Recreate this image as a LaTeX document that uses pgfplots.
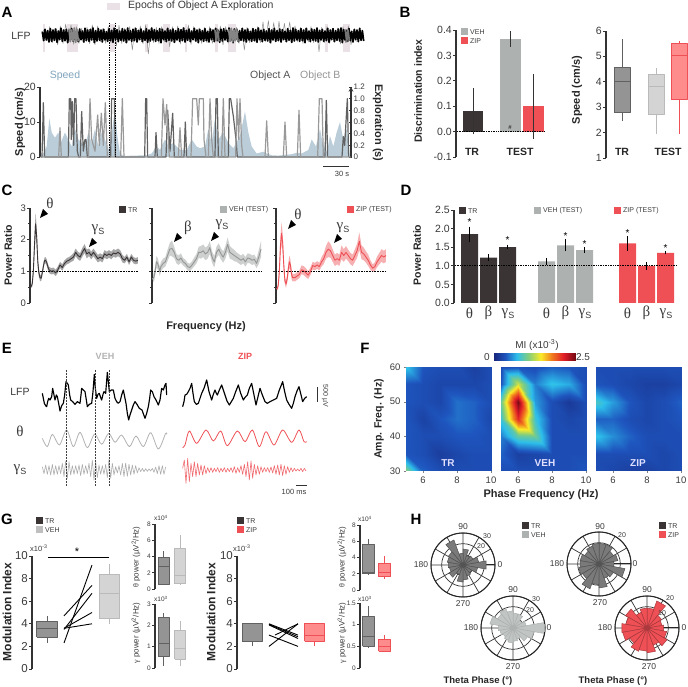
\documentclass[border=0pt]{standalone}
\usepackage{fontspec}
\setmainfont{Liberation Sans}
\newfontfamily\gr{Liberation Serif}
\usepackage{pgfplots}
\usepackage{pgfplotstable}
\pgfplotsset{compat=1.18}
\usepgfplotslibrary{polar}
\definecolor{txt}{HTML}{3A3A3A}
\definecolor{axc}{HTML}{333333}
\definecolor{trd}{HTML}{3A3435}
\definecolor{vehg}{HTML}{ADB1AF}
\definecolor{zipr}{HTML}{EE5055}
\definecolor{spd}{HTML}{BACDD9}
\definecolor{spdt}{HTML}{7FA3BC}
\definecolor{epo}{HTML}{E9E1E5}
\newcommand\fs[1]{\fontsize{#1}{#1}\selectfont}
\newcommand\T[4][]{\node[inner sep=0pt,text=txt,#1] at (#2,687-#3) {#4};}
\newcommand\sw[4]{\fill[#3] (#1,687-#2-3.5) rectangle ++(7,7);\node[anchor=west,inner sep=0pt,text=txt] at (#1+9,687-#2) {\fs{7}#4};}
\newcommand\arr[2]{\fill[black] (#1-4,687-#2-5) -- (#1+4,687-#2-1) -- (#1-1,687-#2+4) -- cycle;}
\newcommand\gs{{\gr\fs{15}γ}\raisebox{-2.5pt}{\fs{9}S}}
\pgfplotsset{
  every axis plot/.append style={line join=round},
  base/.style={scale only axis, axis lines=left, axis line style={-, draw=axc, line width=1.1pt},
    tick style={draw=axc, line width=.8pt}, tick align=outside, major tick length=3pt, minor tick length=2pt,
    tick label style={font=\fs{10.5}, text=txt, inner sep=1pt},
    /pgf/number format/assume math mode=true, enlargelimits=false, clip=false, axis x line=none},
  trbox/.style={fill=black!42, draw=black!62, line width=1pt},
  vehbox/.style={fill=black!17, draw=black!27, line width=1pt},
  zipbox/.style={fill=red!45!white, draw=zipr, line width=1pt},
  heat/.style={scale only axis, width=85pt, height=104pt, xmin=5, xmax=10, ymin=30, ymax=60,
    xtick={6,8,10}, tick align=outside, major tick length=2pt, axis line style={draw=none},
    tick label style={font=\fs{9.5}, text=txt},
    /pgf/number format/assume math mode=true, xtick pos=left, ytick pos=left,
    colormap={mi}{rgb255=(24,38,125) rgb255=(30,85,190) rgb255=(45,190,235) rgb255=(130,205,125) rgb255=(250,235,40) rgb255=(240,120,30) rgb255=(225,30,40) rgb255=(120,10,20)},
    point meta min=0, point meta max=2.5},
  rosea/.style={scale only axis, width=64pt, height=64pt, anchor=center, ymin=0,
    xtick={0,30,...,330}, xticklabels={}, yticklabels={}, grid=major,
    grid style={draw=black!80, line width=.7pt}, axis line style={draw=black!85, line width=1pt},
    tick style={draw=none}},
  band/.style={hide axis, scale only axis, anchor=south west, ymin=0, ymax=3, xmax=100, stack plots=y, enlargelimits=false}
}
% position, width, lower whisker, q1, median, q3, upper whisker, style
\newcommand\bx[8]{%
  \pgfmathsetmacro\xa{#1-#2/2}\pgfmathsetmacro\xb{#1+#2/2}%
  \addplot[#8, fill=none] coordinates {(#1,#3)(#1,#4)};
  \addplot[#8, fill=none] coordinates {(#1,#6)(#1,#7)};
  \addplot[#8] coordinates {(\xa,#4)(\xb,#4)(\xb,#6)(\xa,#6)(\xa,#4)};
  \addplot[#8, fill=none] coordinates {(\xa,#5)(\xb,#5)};
}
\newcommand\rose[3]{\foreach \r [count=\i from 0] in {#3} {\pgfmathsetmacro\a{\i*20-10}\pgfmathsetmacro\b{\i*20+10}\edef\tmp{\noexpand\addplot[fill=#1,draw=#2,line width=.5pt] coordinates {(0,0)(\a,\r)(\b,\r)(0,0)};}\tmp}}

\pgfplotstableread[row sep=\\]{f m e\\ 3 .5 .04\\ 4 .52 .05\\ 5 .6 .08\\ 6 1.0 .15\\ 7 1.8 .3\\ 8 2.5 .35\\ 9 2.1 .3\\ 10 1.3 .2\\ 11 .95 .12\\ 12 .8 .1\\ 13 .78 .1\\ 14 .95 .1\\ 15 1.15 .1\\ 16 1.33 .1\\ 17 1.35 .1\\ 18 1.28 .1\\ 19 1.15 .1\\ 20 1.05 .1\\ 22 1.0 .1\\ 24 1.02 .1\\ 26 .95 .1\\ 28 1.05 .1\\ 30 1.2 .1\\ 32 1.12 .1\\ 34 1.25 .1\\ 36 1.32 .1\\ 38 1.35 .1\\ 40 1.4 .1\\ 42 1.45 .12\\ 44 1.6 .12\\ 46 1.5 .12\\ 48 1.45 .12\\ 50 1.6 .14\\ 52 1.72 .14\\ 54 1.55 .14\\ 56 1.6 .12\\ 58 1.5 .12\\ 60 1.6 .12\\ 62 1.5 .12\\ 64 1.4 .12\\ 66 1.45 .12\\ 68 1.4 .12\\ 70 1.55 .12\\ 72 1.5 .12\\ 74 1.55 .12\\ 76 1.5 .12\\ 78 1.58 .12\\ 80 1.55 .12\\ 82 1.6 .12\\ 84 1.55 .12\\ 86 1.4 .12\\ 88 1.35 .1\\ 90 1.45 .1\\ 92 1.3 .1\\ 94 1.45 .1\\ 96 1.35 .1\\ 98 1.32 .1\\ 100 1.35 .1\\}\tblA
\pgfplotstableread[row sep=\\]{f m e\\ 2 .75 .12\\ 3 .78 .12\\ 4 .85 .15\\ 5 1.05 .15\\ 6 1.3 .18\\ 7 1.25 .18\\ 8 1.15 .15\\ 9 1.0 .15\\ 10 1.15 .15\\ 12 1.25 .15\\ 14 1.3 .15\\ 16 1.5 .18\\ 18 1.7 .2\\ 20 1.72 .25\\ 22 1.6 .18\\ 24 1.4 .15\\ 26 1.35 .15\\ 28 1.42 .15\\ 30 1.3 .12\\ 32 1.25 .12\\ 34 1.15 .12\\ 36 1.12 .12\\ 38 1.2 .12\\ 40 1.3 .14\\ 42 1.4 .15\\ 44 1.6 .18\\ 46 1.6 .2\\ 48 1.65 .2\\ 50 1.55 .2\\ 52 1.6 .2\\ 54 1.75 .2\\ 56 1.45 .18\\ 58 1.3 .18\\ 60 1.6 .18\\ 62 1.7 .18\\ 64 1.55 .18\\ 66 1.45 .18\\ 68 1.6 .2\\ 70 1.85 .22\\ 72 1.6 .2\\ 74 1.55 .18\\ 76 1.5 .18\\ 78 1.45 .15\\ 80 1.4 .15\\ 82 1.35 .15\\ 84 1.4 .15\\ 86 1.3 .15\\ 88 1.42 .15\\ 90 1.4 .15\\ 92 1.35 .15\\ 94 1.38 .15\\ 96 1.25 .15\\ 98 1.45 .22\\ 100 1.7 .25\\}\tblB
\pgfplotstableread[row sep=\\]{f m e\\ 1 .45 .05\\ 2 .45 .06\\ 3 .55 .1\\ 4 1.0 .2\\ 5 1.8 .3\\ 6 2.2 .35\\ 7 1.9 .3\\ 8 1.2 .2\\ 9 .7 .12\\ 10 .6 .12\\ 11 .75 .12\\ 12 1.05 .18\\ 13 1.3 .2\\ 14 1.2 .18\\ 15 .9 .15\\ 16 .8 .12\\ 18 .8 .12\\ 20 .85 .12\\ 22 .9 .12\\ 24 1.05 .14\\ 26 1.02 .14\\ 28 .95 .14\\ 30 .88 .12\\ 32 1.0 .12\\ 34 1.18 .12\\ 36 1.15 .12\\ 38 1.2 .12\\ 40 1.15 .12\\ 42 1.3 .15\\ 44 1.4 .17\\ 46 1.6 .2\\ 48 1.7 .25\\ 50 1.65 .22\\ 52 1.5 .2\\ 54 1.35 .18\\ 56 1.4 .18\\ 58 1.35 .18\\ 60 1.6 .22\\ 62 1.5 .2\\ 64 1.6 .2\\ 66 1.5 .18\\ 68 1.4 .18\\ 70 1.35 .18\\ 72 1.5 .2\\ 74 1.65 .22\\ 76 1.95 .28\\ 78 1.6 .22\\ 80 1.55 .2\\ 82 1.45 .18\\ 84 1.35 .18\\ 86 1.2 .15\\ 88 1.1 .12\\ 90 1.15 .14\\ 92 1.3 .17\\ 94 1.4 .18\\ 96 1.5 .2\\ 98 1.45 .2\\ 100 1.5 .2\\}\tblC

\pgfplotstableread[row sep=\\]{x y z\\
5 30 1.1\\ 6 30 .4\\ 7 30 .3\\ 8 30 .3\\ 9 30 .3\\ 10 30 .3\\
5 35 .35\\ 6 35 .3\\ 7 35 .18\\ 8 35 .25\\ 9 35 .3\\ 10 35 .3\\
5 40 .35\\ 6 40 .3\\ 7 40 .3\\ 8 40 .35\\ 9 40 .35\\ 10 40 .3\\
5 45 .35\\ 6 45 .22\\ 7 45 .35\\ 8 45 .45\\ 9 45 .4\\ 10 45 .25\\
5 50 .35\\ 6 50 .3\\ 7 50 .25\\ 8 50 .45\\ 9 50 .4\\ 10 50 .3\\
5 55 .35\\ 6 55 .3\\ 7 55 .25\\ 8 55 .25\\ 9 55 .25\\ 10 55 .3\\
5 60 .75\\ 6 60 .35\\ 7 60 .3\\ 8 60 .3\\ 9 60 .2\\ 10 60 .3\\}\hmTR
\pgfplotstableread[row sep=\\]{x y z\\
5 30 .3\\ 6 30 .3\\ 7 30 .3\\ 8 30 .3\\ 9 30 .3\\ 10 30 .35\\
5 35 .4\\ 6 35 .2\\ 7 35 .25\\ 8 35 .3\\ 9 35 .3\\ 10 35 .3\\
5 40 .5\\ 6 40 .95\\ 7 40 1.0\\ 8 40 .3\\ 9 40 .3\\ 10 40 .3\\
5 45 .8\\ 6 45 2.1\\ 7 45 .8\\ 8 45 .3\\ 9 45 .25\\ 10 45 .3\\
5 50 1.0\\ 6 50 2.5\\ 7 50 .6\\ 8 50 .3\\ 9 50 .15\\ 10 50 .3\\
5 55 .35\\ 6 55 1.3\\ 7 55 .5\\ 8 55 .75\\ 9 55 .65\\ 10 55 .3\\
5 60 .3\\ 6 60 .35\\ 7 60 .3\\ 8 60 .4\\ 9 60 .35\\ 10 60 .3\\}\hmVEH
\pgfplotstableread[row sep=\\]{x y z\\
5 30 .3\\ 6 30 .25\\ 7 30 .2\\ 8 30 .2\\ 9 30 .25\\ 10 30 .3\\
5 35 .3\\ 6 35 .3\\ 7 35 .3\\ 8 35 .3\\ 9 35 .25\\ 10 35 .3\\
5 40 .75\\ 6 40 .55\\ 7 40 .4\\ 8 40 .3\\ 9 40 .3\\ 10 40 .3\\
5 45 .4\\ 6 45 .4\\ 7 45 .3\\ 8 45 .25\\ 9 45 .3\\ 10 45 .35\\
5 50 .85\\ 6 50 .6\\ 7 50 .35\\ 8 50 .25\\ 9 50 .3\\ 10 50 .4\\
5 55 .35\\ 6 55 .3\\ 7 55 .25\\ 8 55 .2\\ 9 55 .2\\ 10 55 .25\\
5 60 .3\\ 6 60 .3\\ 7 60 .3\\ 8 60 .3\\ 9 60 .3\\ 10 60 .3\\}\hmZIP

\begin{document}
\begin{tikzpicture}[x=1pt,y=1pt]
% panel letters
\T{7}{12}{\fs{15}\bfseries\color{black}A}
\T{405}{12}{\fs{15}\bfseries\color{black}B}
\T{7}{190}{\fs{15}\bfseries\color{black}C}
\T{406}{190}{\fs{15}\bfseries\color{black}D}
\T{7}{348}{\fs{15}\bfseries\color{black}E}
\T{365}{348}{\fs{15}\bfseries\color{black}F}
\T{7}{519}{\fs{15}\bfseries\color{black}G}
\T{416}{519}{\fs{15}\bfseries\color{black}H}

% A
\fill[epo] (107,687-10) rectangle (120,687-3);
\T[anchor=west]{128}{6}{\fs{10.5}Epochs of Object A Exploration}
\foreach \a/\b in {43/45,67/78,110/115,145/148,163/170,185/187,215/218,228/236,325/328,343/350} {\fill[epo] (\a,687-52) rectangle (\b,687-24);}
\T{21}{36}{\fs{10.5}LFP}
\begin{axis}[hide axis, scale only axis, at={(40pt,630.33pt)}, anchor=south west, width=311.67pt, height=38.33pt,
  xmin=120, xmax=1055, ymin=55, ymax=170, y dir=reverse, clip=false]
\addplot[black!45, line width=.5pt] table[header=false,x expr=125+\coordindex*8,y index=0,row sep=\\]{
100\\88\\122\\80\\128\\85\\135\\78\\130\\72\\125\\75\\133\\80\\130\\85\\128\\82\\132\\75\\134\\78\\125\\85\\130\\80\\128\\82\\138\\76\\130\\85\\128\\80\\150\\82\\126\\78\\131\\75\\162\\85\\128\\82\\130\\80\\126\\84\\140\\80\\128\\78\\132\\82\\128\\75\\133\\80\\126\\84\\130\\82\\128\\80\\130\\85\\126\\78\\135\\80\\130\\85\\128\\82\\130\\85\\150\\82\\128\\84\\126\\80\\128\\66\\126\\62\\130\\68\\125\\64\\128\\70\\126\\66\\128\\78\\126\\82\\130\\84\\126\\80\\128\\85\\155\\82\\128\\80\\130\\85\\126\\84\\132\\80\\128\\78\\134\\90\\125\\
};
\addplot[black, line width=1.7pt] table[header=false,x expr=127+\coordindex*4,y index=0,row sep=\\]{
95\\122\\88\\120\\92\\126\\86\\124\\90\\121\\87\\127\\93\\119\\85\\124\\90\\122\\88\\128\\92\\120\\86\\123\\94\\121\\89\\125\\87\\119\\93\\126\\85\\122\\90\\124\\88\\120\\84\\128\\92\\123\\86\\121\\90\\126\\88\\120\\95\\124\\87\\122\\91\\127\\85\\119\\89\\125\\93\\121\\86\\123\\90\\128\\84\\120\\92\\124\\88\\122\\85\\126\\91\\119\\87\\125\\93\\121\\86\\127\\90\\123\\84\\120\\89\\124\\92\\122\\86\\128\\88\\119\\93\\125\\85\\121\\90\\123\\87\\127\\92\\120\\86\\124\\89\\122\\84\\126\\91\\121\\87\\125\\93\\119\\85\\123\\90\\128\\88\\120\\92\\124\\86\\122\\94\\126\\87\\119\\90\\125\\85\\121\\92\\127\\88\\123\\86\\120\\91\\124\\84\\122\\93\\128\\87\\119\\89\\125\\92\\121\\85\\123\\90\\126\\87\\120\\94\\124\\86\\122\\89\\127\\84\\119\\91\\125\\88\\121\\93\\123\\86\\128\\90\\120\\85\\124\\92\\122\\87\\126\\89\\119\\94\\125\\86\\121\\91\\127\\84\\123\\88\\120\\92\\124\\86\\122\\90\\128\\85\\119\\93\\125\\87\\121\\89\\123\\84\\126\\91\\120\\88\\124\\93\\122\\85\\127\\90\\119\\86\\125\\92\\121\\87\\123\\84\\128\\89\\120\\91\\124\\86\\122\\94\\126\\88\\119\\90\\125\\85\\121\\92\\123\\
};
\addplot[black!48, line width=1.7pt] table[header=false,x expr=207+\coordindex*4,y index=0,row sep=\\]{86\\125\\90\\122\\84\\127\\88\\124\\};
\addplot[black!48, line width=1.7pt] table[header=false,x expr=686+\coordindex*4,y index=0,row sep=\\]{88\\124\\85\\126\\90\\122\\86\\125\\};
\addplot[black!55, line width=1.7pt] table[header=false,x expr=645+\coordindex*4,y index=0,row sep=\\]{90\\122\\88\\124\\};
\addplot[black!55, line width=1.7pt] table[header=false,x expr=1036+\coordindex*4,y index=0,row sep=\\]{88\\125\\90\\122\\};
\end{axis}

\begin{axis}[base, at={(40pt,530pt)}, anchor=south west, width=311pt, height=70pt,
  xmin=120, xmax=1053, ymin=0, ymax=20, ytick={0,10,20}]
\addplot[fill=spd, draw=none] coordinates {(122,0)(130,1)(140,3)(148,11)(155,7)(165,5.5)(175,7)(182,4)(195,7)(205,5)(215,3)(225,8)(235,5)(245,4)(255,3)(265,7)(275,4)(285,8)(295,3)(305,7)(315,5)(325,2)(333,5)(345,14)(352,6)(360,1)(370,.3)(440,.5)(455,1)(470,3)(480,2)(495,5)(505,3)(520,4)(540,2)(560,2)(575,5)(590,3)(600,2.5)(615,3)(625,8)(635,4)(645,11)(655,5)(670,7)(685,4)(700,2.5)(720,6)(735,13)(745,7)(755,3)(770,1)(790,1.5)(800,1)(815,.5)(835,.4)(855,.6)(875,.8)(890,1.2)(905,1)(925,2)(935,5)(948,3)(960,8)(968,4)(980,1.5)(990,6)(1000,3)(1010,7)(1020,10)(1030,5)(1040,8)(1050,0)} \closedcycle;
\end{axis}
\begin{axis}[base, at={(40pt,530pt)}, anchor=south west, width=311pt, height=70pt,
  xmin=120, xmax=1053, ymin=0, ymax=1.2, axis y line=right, ytick={0,.2,.4,.6,.8,1,1.2}, yticklabels={0,0.2,0.4,0.6,0.8,1.0,1.2}, tick label style={font=\fs{8}}]
\addplot[black!62, line width=1.2pt] coordinates {(122,0)(126,0)(130,.93)(134,0)(205,0)(208,1)(212,1)(214,.3)(217,.95)(221,.2)(224,1)(228,1)(232,.1)(236,0)(241,0)(245,.78)(250,.1)(255,.3)(258,.3)(262,0)(332,0)(335,1)(343,1)(346,0)(434,0)(437,1)(440,1)(443,0)(465,0)(468,.42)(472,0)(498,0)(503,.8)(510,.1)(518,.75)(523,0)(552,0)(556,.6)(560,0)(645,0)(648,1)(652,1)(655,0)(685,0)(688,1)(692,1)(700,.7)(708,.3)(712,0)(975,0)(979,.97)(983,0)(1026,0)(1030,.35)(1034,.2)(1042,1)(1046,0)};
\addplot[black!40, line width=1.2pt] coordinates {(122,0)(176,0)(180,.5)(184,0)(265,0)(270,1)(275,.3)(285,.1)(293,.72)(298,.2)(304,.75)(310,.2)(316,.93)(322,0)(362,0)(367,1)(372,0)(484,0)(489,1)(495,.55)(500,.9)(505,.3)(508,0)(535,0)(540,.5)(545,0)(573,0)(578,1)(590,1)(595,.55)(598,1)(610,1)(612,.3)(618,0)(625,0)(630,1)(635,.3)(640,0)(665,0)(670,1)(675,0)(707,0)(711,1)(716,.3)(720,1)(725,.2)(729,0)(795,0)(800,.62)(805,0)(850,0)(855,.6)(860,0)(892,0)(897,.8)(902,0)(953,0)(958,1)(966,1)(970,0)(1052,0)};
\end{axis}
\foreach \x in {109,115} {\draw[black, densely dotted, line width=.7pt] (\x,687-23) -- (\x,687-157);}
\T{65}{76}{\fs{10.5}\color{spdt}Speed}
\T[anchor=west]{250}{76}{\fs{10.5}\color{black!68}Object A}
\T[anchor=west]{300}{76}{\fs{10.5}\color{black!42}Object B}
\T[rotate=90]{20}{122}{\fs{11}\bfseries\color{black!85}Speed (cm/s)}
\T[rotate=-90]{378}{123}{\fs{11}\bfseries\color{black!85}Exploration (s)}
\draw[axc, line width=.9pt] (323,687-166) -- (349,687-166);
\T{342}{174}{\fs{7.5}30 s}

% B
\begin{axis}[base, at={(456pt,530pt)}, anchor=south west, width=90pt, height=127pt,
  xmin=456, xmax=546, ymin=-.1, ymax=.4, ytick={-.1,0,.1,.2,.3,.4}, yticklabels={-0.1,0.0,0.1,0.2,0.3,0.4}]
\addplot[ybar, bar width=20pt, bar shift=0pt, fill=trd, draw=none] coordinates {(473,.08)};
\addplot[ybar, bar width=21pt, bar shift=0pt, fill=vehg, draw=none] coordinates {(510,.365)};
\addplot[ybar, bar width=21pt, bar shift=0pt, fill=zipr, draw=none] coordinates {(533.5,.10)};
\addplot[black, densely dotted, line width=.7pt] coordinates {(457,0)(545,0)};
\addplot[axc, line width=.8pt] coordinates {(473,-.01)(473,.17)};
\addplot[axc, line width=.8pt] coordinates {(510,.335)(510,.395)};
\addplot[axc, line width=.8pt] coordinates {(533.5,-.03)(533.5,.225)};
\end{axis}
\T{510}{127}{\fs{6}\bfseries\#}
\sw{461}{32}{vehg}{VEH}
\sw{461}{41}{zipr}{ZIP}
\T{472}{152}{\fs{10.5}\bfseries\color{black!85}TR}
\T{520}{152}{\fs{10.5}\bfseries\color{black!85}TEST}
\T[rotate=90]{418}{91}{\fs{10.5}\bfseries\color{black!85}Discrimination index}
\begin{axis}[base, at={(606pt,529pt)}, anchor=south west, width=82pt, height=127pt,
  xmin=0, xmax=82, ymin=1, ymax=6, ytick={1,2,3,4,5,6}]
\bx{16}{16}{2.45}{2.8}{4}{4.55}{5.7}{trbox}
\bx{50}{16}{1.95}{2.7}{3.8}{4.3}{4.55}{vehbox}
\bx{73}{16}{1.95}{3.3}{5.05}{5.5}{5.6}{zipbox}
\end{axis}
\T{622}{152}{\fs{10.5}\bfseries\color{black!85}TR}
\T{668}{152}{\fs{10.5}\bfseries\color{black!85}TEST}
\T[rotate=90]{577}{90}{\fs{11}\bfseries\color{black!85}Speed (cm/s)}

% C
\begin{axis}[band, at={(30pt,384pt)}, width=108pt, height=95pt, xmin=3]
\addplot[draw=none] table[x=f, y expr=\thisrow{m}-\thisrow{e}] {\tblA};
\addplot[fill=black!35, draw=none] table[x=f, y expr=2*\thisrow{e}] {\tblA} \closedcycle;
\end{axis}
\begin{axis}[base, axis x line*=bottom, at={(30pt,384pt)}, anchor=south west, width=108pt, height=95pt,
  xmin=3, xmax=100, ymin=0, ymax=3, ytick={0,1,2,3}, xtick={20,40,60,80,100}, minor ytick={.5,1.5,2.5}, tick label style={font=\fs{9.5}}]
\addplot[black, densely dotted, line width=.6pt] coordinates {(3,1)(100,1)};
\addplot[trd, line width=.9pt] table[x=f,y=m] {\tblA};
\end{axis}
\begin{axis}[band, at={(152pt,384pt)}, width=109pt, height=95pt, xmin=2]
\addplot[draw=none] table[x=f, y expr=\thisrow{m}-\thisrow{e}] {\tblB};
\addplot[fill=vehg!60, draw=none] table[x=f, y expr=2*\thisrow{e}] {\tblB} \closedcycle;
\end{axis}
\begin{axis}[base, axis x line*=bottom, at={(152pt,384pt)}, anchor=south west, width=109pt, height=95pt,
  xmin=2, xmax=100, ymin=0, ymax=3, ytick={0,1,2,3}, yticklabels={}, xtick={20,40,60,80,100}, minor ytick={.5,1.5,2.5}, tick label style={font=\fs{9.5}}]
\addplot[black, densely dotted, line width=.6pt] coordinates {(2,1)(100,1)};
\addplot[vehg!85!black, line width=.9pt] table[x=f,y=m] {\tblB};
\end{axis}
\begin{axis}[band, at={(276pt,384pt)}, width=110pt, height=95pt, xmin=1]
\addplot[draw=none] table[x=f, y expr=\thisrow{m}-\thisrow{e}] {\tblC};
\addplot[fill=zipr!45, draw=none] table[x=f, y expr=2*\thisrow{e}] {\tblC} \closedcycle;
\end{axis}
\begin{axis}[base, axis x line*=bottom, at={(276pt,384pt)}, anchor=south west, width=110pt, height=95pt,
  xmin=1, xmax=100, ymin=0, ymax=3, ytick={0,1,2,3}, yticklabels={}, xtick={20,40,60,80,100}, minor ytick={.5,1.5,2.5}, tick label style={font=\fs{9.5}}]
\addplot[black, densely dotted, line width=.6pt] coordinates {(1,1)(100,1)};
\addplot[zipr, line width=.9pt] table[x=f,y=m] {\tblC};
\end{axis}
\sw{119}{210}{trd}{TR}
\sw{220}{210}{vehg}{VEH (TEST)}
\sw{347}{210}{zipr}{ZIP (TEST)}
\T{50}{203}{\gr\fs{15}θ}\arr{44}{213}
\T{98}{230}{\gs}\arr{93}{242}
\T{188}{228}{\gr\fs{15}β}\arr{178}{237}
\T{222}{225}{\gs}\arr{215}{236}
\T{298}{214}{\gr\fs{15}θ}\arr{292}{224}
\T{343}{228}{\gs}\arr{338}{238}
\T[rotate=90]{8}{255}{\fs{10.5}\bfseries\color{black!85}Power Ratio}
\T{206}{327}{\fs{11}\bfseries\color{black!85}Frequency (Hz)}

% D
\begin{axis}[base, at={(454pt,384pt)}, anchor=south west, width=226pt, height=93pt,
  xmin=454, xmax=680, ymin=0, ymax=2.5, ytick={0,.5,1,1.5,2,2.5}, yticklabels={0.0,0.5,1.0,1.5,2.0,2.5}]
\addplot[ybar, bar width=17pt, bar shift=0pt, fill=trd, draw=none, error bars/.cd, y dir=both, y explicit, error mark=none, error bar style={black, line width=.9pt}] coordinates {(469.5,1.85) +- (0,.2) (488.5,1.22) +- (0,.09) (507.5,1.5) +- (0,.06)};
\addplot[ybar, bar width=17pt, bar shift=0pt, fill=vehg, draw=none, error bars/.cd, y dir=both, y explicit, error mark=none, error bar style={black, line width=.9pt}] coordinates {(546.5,1.12) +- (0,.09) (565.5,1.55) +- (0,.16) (584.5,1.42) +- (0,.08)};
\addplot[ybar, bar width=17pt, bar shift=0pt, fill=zipr, draw=none, error bars/.cd, y dir=both, y explicit, error mark=none, error bar style={black, line width=.9pt}] coordinates {(627.5,1.6) +- (0,.19) (646.5,1.0) +- (0,.1) (665.5,1.35) +- (0,.04)};
\addplot[black, densely dotted, line width=.7pt] coordinates {(455,1)(677,1)};
\end{axis}
\foreach \x/\y in {469.5/222,507.5/240,565.5/236,584.5/244,627.5/233,665.5/248} {\T{\x}{\y}{\fs{10}\color{black}*}}
\sw{459}{211}{trd}{TR}
\sw{534}{211}{vehg}{VEH (TEST)}
\sw{614}{211}{zipr}{ZIP (TEST)}
\foreach \o in {469.5,546.5,627.5} {
  \T{\o}{313}{\gr\fs{15}θ}
  \T{\o+19}{313}{\gr\fs{15}β}
  \T{\o+38.5}{314}{\gs}
}
\T[rotate=90]{417}{255}{\fs{10.5}\bfseries\color{black!85}Power Ratio}

% E
\begin{axis}[hide axis, scale only axis, at={(40pt,192pt)}, anchor=south west, width=270pt, height=126.67pt,
  xmin=120, xmax=930, ymin=100, ymax=480, y dir=reverse, clip=false]
\addplot[black, line width=1.15pt] coordinates {(127,175)(130,190)(133,205)(137,212)(140,215)(143,200)(146,190)(150,195)(155,185)(158,160)(162,180)(165,195)(169,180)(172,185)(176,205)(180,228)(185,212)(190,205)(194,180)(198,140)(202,145)(205,150)(209,180)(212,195)(218,200)(225,208)(232,200)(240,205)(243,180)(245,160)(250,165)(255,170)(259,195)(262,215)(268,208)(275,205)(279,170)(283,118)(286,160)(290,190)(294,178)(298,175)(302,188)(305,195)(309,178)(312,170)(317,175)(322,112)(325,140)(328,170)(334,165)(340,165)(345,190)(350,200)(355,205)(360,200)(365,180)(370,165)(374,185)(378,205)(382,235)(386,255)(390,240)(395,225)(400,210)(405,200)(411,208)(418,220)(426,225)(435,250)(440,235)(445,215)(449,190)(452,165)(457,170)(462,185)(468,195)(475,210)(480,195)(485,160)(490,165)(495,150)(498,145)(500,180)};
\addplot[black, line width=1.15pt] coordinates {(548,215)(552,200)(555,180)(560,178)(565,170)(570,160)(575,145)(579,175)(583,200)(589,208)(595,205)(600,190)(605,175)(612,160)(620,135)(627,170)(635,195)(640,178)(645,165)(649,175)(652,180)(658,165)(665,150)(670,165)(675,180)(681,198)(688,210)(694,200)(700,190)(707,170)(715,150)(722,175)(730,195)(736,186)(742,180)(748,160)(755,145)(761,175)(768,210)(774,185)(780,160)(787,180)(795,200)(802,205)(810,200)(820,195)(830,190)(838,165)(848,140)(854,170)(860,195)(867,208)(875,220)(880,205)(885,185)(891,168)(897,155)(902,175)(908,200)(914,190)(920,185)};
\addplot[black!30, line width=.8pt, smooth] coordinates {(127,310)(142,335)(157,298)(178,330)(200,285)(220,335)(240,292)(262,338)(284,297)(305,328)(326,295)(345,322)(365,300)(388,335)(408,303)(430,335)(452,293)(475,342)(497,295)(500,298)};
\addplot[zipr, line width=.8pt, smooth] coordinates {(548,338)(555,330)(568,288)(590,325)(618,285)(640,318)(662,288)(682,332)(712,288)(735,320)(757,285)(778,335)(798,290)(822,330)(848,285)(875,322)(897,285)(912,320)(920,320)};
\addplot[black!32, line width=.6pt] table[header=false,x expr=127+\coordindex*5,y index=0,row sep=\\]{395\\416\\390\\418\\392\\420\\388\\420\\392\\418\\392\\416\\385\\425\\378\\430\\380\\420\\392\\418\\392\\416\\390\\422\\388\\418\\392\\416\\385\\425\\375\\435\\378\\428\\390\\418\\392\\418\\388\\428\\372\\430\\385\\420\\395\\414\\392\\420\\385\\425\\384\\424\\388\\420\\390\\418\\392\\414\\398\\410\\400\\410\\401\\409\\402\\408\\400\\412\\396\\416\\392\\418\\392\\418\\396\\};
\addplot[zipr!85, line width=.6pt] table[header=false,x expr=548+\coordindex*5,y index=0,row sep=\\]{400\\375\\445\\370\\440\\385\\425\\380\\425\\385\\420\\390\\420\\392\\416\\398\\412\\398\\412\\400\\410\\398\\412\\400\\410\\398\\412\\400\\410\\398\\412\\395\\415\\398\\412\\392\\418\\388\\425\\380\\435\\378\\430\\388\\420\\392\\418\\395\\412\\398\\410\\398\\412\\396\\414\\392\\418\\390\\420\\388\\422\\392\\418\\395\\412\\398\\410\\400\\408\\402\\408\\400\\410\\400\\408\\};
\end{axis}
\foreach \x in {66,95,109} {\draw[black!75, densely dotted, line width=.5pt] (\x,687-370) -- (\x,687-487);}
\T{105}{356}{\fs{9}\bfseries\color{black!30}VEH}
\T{245}{356}{\fs{9}\bfseries\color{zipr}ZIP}
\T{20}{392}{\fs{10.5}LFP}
\T{20}{431}{\gr\fs{15}θ}
\T{20}{470}{\gs}
\draw[axc, line width=.8pt] (317,687-387) -- (317,687-402);
\T[rotate=-90]{325}{396}{\fs{7}500 µV}
\draw[axc, line width=.8pt] (296,687-485) -- (307,687-485);
\T{294}{492}{\fs{7.5}100 ms}

% F
\begin{axis}[hide axis, scale only axis, at={(494pt,326pt)}, anchor=south west, width=81pt, height=8pt,
  xmin=0, xmax=2.5, ymin=0, ymax=1, colormap={mi}{rgb255=(24,38,125) rgb255=(30,85,190) rgb255=(45,190,235) rgb255=(130,205,125) rgb255=(250,235,40) rgb255=(240,120,30) rgb255=(225,30,40) rgb255=(120,10,20)}, point meta min=0, point meta max=2.5]
\addplot[surf, shader=interp, mesh/cols=6, point meta=x] coordinates {(0,0)(.5,0)(1,0)(1.5,0)(2,0)(2.5,0)(0,1)(.5,1)(1,1)(1.5,1)(2,1)(2.5,1)};
\end{axis}
\begin{axis}[heat, at={(406pt,216pt)}, anchor=south west, ytick={30,40,50,60}]
\addplot[surf, shader=interp, mesh/cols=6, point meta=\thisrow{z}] table[x=x,y=y] {\hmTR};
\end{axis}
\begin{axis}[heat, at={(501pt,216pt)}, anchor=south west, ytick=\empty]
\addplot[surf, shader=interp, mesh/cols=6, point meta=\thisrow{z}] table[x=x,y=y] {\hmVEH};
\end{axis}
\begin{axis}[heat, at={(596pt,216pt)}, anchor=south west, ytick=\empty]
\addplot[surf, shader=interp, mesh/cols=6, point meta=\thisrow{z}] table[x=x,y=y] {\hmZIP};
\end{axis}
\T{487}{357}{\fs{10}0}
\T{583}{357}{\fs{10}2.5}
\T{537}{345}{\fs{10}MI (x10\textsuperscript{-3})}
\T{448}{463}{\fs{10}\bfseries\color{white!88!blue}TR}
\T{545}{463}{\fs{10}\bfseries\color{white!88!blue}VEH}
\T{638}{463}{\fs{10}\bfseries\color{white!88!blue}ZIP}
\T[rotate=90]{379}{419}{\fs{10.5}\bfseries\color{black!85}Amp. Freq. (Hz)}
\T{541}{495}{\fs{11}\bfseries\color{black!85}Phase Frequency (Hz)}

% G left
\begin{axis}[base, at={(32pt,18pt)}, anchor=south west, width=90pt, height=113pt,
  xmin=0, xmax=90, ymin=0, ymax=10, ytick={0,2,4,6,8,10}, tick label style={font=\fs{11.5}}]
\bx{15}{20}{2.3}{2.8}{3.55}{4.2}{4.7}{trbox}
\bx{77}{20}{4}{4.5}{6.7}{8.35}{9.3}{vehbox}
\addplot[black, line width=.9pt] coordinates {(32,2.3)(60,9.2)};
\addplot[black, line width=.9pt] coordinates {(32,4.7)(60,7.4)};
\addplot[black, line width=.9pt] coordinates {(32,3.5)(60,6.7)};
\addplot[black, line width=.9pt] coordinates {(32,3.6)(60,5.0)};
\addplot[black, line width=.9pt] coordinates {(32,3.6)(60,4.0)};
\addplot[black, line width=1pt] coordinates {(16,9.9)(77,9.9)};
\end{axis}
\T{77}{552}{\fs{11}\color{black}*}
\sw{36}{521}{trd}{TR}
\sw{36}{530}{black!25}{VEH}
\T[anchor=west]{30}{548}{\fs{7.5}x10\textsuperscript{-3}}
\T[rotate=90]{7}{612}{\fs{12}\bfseries\color{black!85}Modulation Index}
\begin{axis}[base, at={(155pt,98pt)}, anchor=south west, width=35pt, height=65pt,
  xmin=0, xmax=35, ymin=0, ymax=8, ytick={0,2,4,6,8}, tick label style={font=\fs{6.5}}]
\bx{8.5}{11}{.5}{.6}{2.8}{3.9}{4.7}{trbox}
\bx{25}{11}{.6}{.65}{1.6}{4.95}{6.7}{vehbox}
\end{axis}
\T[anchor=west]{154}{518}{\fs{6.5}x10\textsuperscript{4}}
\T[rotate=90]{136}{557}{\fs{8}{\gr θ} power (µV\textsuperscript{2}/Hz)}
\begin{axis}[base, at={(155pt,19pt)}, anchor=south west, width=35pt, height=64pt,
  xmin=0, xmax=35, ymin=0, ymax=3, ytick={0,1,2,3}, tick label style={font=\fs{6.5}}]
\bx{8.5}{11}{.1}{.55}{1.15}{2.35}{2.6}{trbox}
\bx{25}{11}{.1}{.4}{.9}{1.75}{2.2}{vehbox}
\end{axis}
\T[anchor=west]{154}{599}{\fs{6.5}x10\textsuperscript{3}}
\T[rotate=90]{136}{633}{\fs{8}{\gr γ} power (µV\textsuperscript{2}/Hz)}

% G right
\begin{axis}[base, at={(237pt,18pt)}, anchor=south west, width=90pt, height=113pt,
  xmin=0, xmax=90, ymin=0, ymax=10, ytick={0,2,4,6,8,10}, tick label style={font=\fs{11.5}}]
\bx{15}{20}{2}{2.45}{4}{4}{4}{trbox}
\bx{77.5}{20}{2}{2.45}{3}{4}{4}{zipbox}
\addplot[black, line width=.9pt] coordinates {(32,4)(61,3)};
\addplot[black, line width=.9pt] coordinates {(32,3.95)(61,2.85)};
\addplot[black, line width=.9pt] coordinates {(32,3.9)(61,2.7)};
\addplot[black, line width=.9pt] coordinates {(32,3)(61,2)};
\addplot[black, line width=.9pt] coordinates {(32,2)(61,4)};
\addplot[black, line width=.9pt] coordinates {(38,3)(61,4)};
\end{axis}
\sw{237}{521}{trd}{TR}
\sw{237}{530}{zipr}{ZIP}
\T[anchor=west]{233}{548}{\fs{7.5}x10\textsuperscript{-3}}
\T[rotate=90]{211}{612}{\fs{12}\bfseries\color{black!85}Modulation Index}
\begin{axis}[base, at={(360pt,97pt)}, anchor=south west, width=35pt, height=65pt,
  xmin=0, xmax=35, ymin=0, ymax=8, ytick={0,2,4,6,8}, tick label style={font=\fs{6.5}}]
\bx{8.5}{12}{1.95}{2}{2.2}{5.6}{6.3}{trbox}
\bx{24.5}{12}{1.4}{1.6}{2.1}{3.2}{4.2}{zipbox}
\end{axis}
\T[anchor=west]{358}{519}{\fs{6.5}x10\textsuperscript{4}}
\T[rotate=90]{342}{557}{\fs{8}{\gr θ} power (µV\textsuperscript{2}/Hz)}
\begin{axis}[base, at={(360pt,19pt)}, anchor=south west, width=35pt, height=65pt,
  xmin=0, xmax=35, ymin=0, ymax=1.5, ytick={0,.5,1,1.5}, yticklabels={0,0.5,1,1.5}, tick label style={font=\fs{6.5}}]
\bx{8.5}{12}{.47}{.5}{.72}{1.18}{1.42}{trbox}
\bx{24.5}{12}{.38}{.39}{.5}{.65}{.75}{zipbox}
\end{axis}
\T[anchor=west]{358}{599}{\fs{6.5}x10\textsuperscript{3}}
\T[rotate=90]{342}{633}{\fs{8}{\gr γ} power (µV\textsuperscript{2}/Hz)}

% H
\begin{polaraxis}[rosea, at={(463pt,122pt)}, ymax=30, ytick={10,20,30}]
\rose{black!52}{black!68}{22,15,11,9.5,15,11,25,16,15,14,13,15,9.5,16,14,11,9.5,14}
\end{polaraxis}
\begin{polaraxis}[rosea, at={(513pt,59pt)}, ymax=30, ytick={10,20,30}]
\rose{vehg!75}{vehg}{30,12.5,9.5,14,14,16,19,17,22,14,12.5,11,12.5,14,12.5,11,16,20}
\end{polaraxis}
\begin{polaraxis}[rosea, at={(599pt,123pt)}, ymax=20, ytick={6.67,13.33,20}]
\rose{black!52}{black!68}{9.5,12,10.5,13,13,13,12,10.5,12,12,13,12,16.5,13,15,9.5,10.5,16.5}
\end{polaraxis}
\begin{polaraxis}[rosea, at={(647pt,59pt)}, ymax=20, ytick={6.67,13.33,20}]
\rose{zipr}{zipr!70!black}{10.5,9.5,10.5,18,12.5,12.5,10.5,15.5,13.5,16,15.5,12.5,15.5,14.5,15.5,11.5,14.5,12.5}
\end{polaraxis}
\T{463}{527}{\fs{8.5}90}\T{463}{604}{\fs{8.5}270}\T{421}{565}{\fs{8.5}180}\T{500}{565}{\fs{8.5}0}
\T{487}{536}{\fs{7}30}\T{481}{546}{\fs{7}20}
\T{513}{590}{\fs{8.5}90}\T{513}{667}{\fs{8.5}270}\T{471}{628}{\fs{8.5}180}\T{549}{628}{\fs{8.5}0}
\T{536}{599}{\fs{7}30}\T{530}{610}{\fs{7}20}
\T{600}{527}{\fs{8.5}90}\T{600}{603}{\fs{8.5}270}\T{557}{564}{\fs{8.5}180}\T{635}{564}{\fs{8.5}0}
\T{622}{535}{\fs{7}20}
\T{647}{590}{\fs{8.5}90}\T{649}{667}{\fs{8.5}270}\T{605}{628}{\fs{8.5}180}\T{684}{628}{\fs{8.5}0}
\T{670}{598}{\fs{7}20}\T{662}{613}{\fs{7}10}
\sw{522}{526}{trd}{TR}
\sw{522}{535}{vehg}{VEH}
\sw{659}{526}{trd}{TR}
\sw{659}{535}{zipr}{ZIP}
\T{478}{681}{\fs{9.5}\bfseries\color{black!85}Theta Phase (°)}
\T{613}{681}{\fs{9.5}\bfseries\color{black!85}Theta Phase (°)}
\pgfresetboundingbox
\useasboundingbox (0,0) rectangle (688,687);
\end{tikzpicture}
\end{document}
